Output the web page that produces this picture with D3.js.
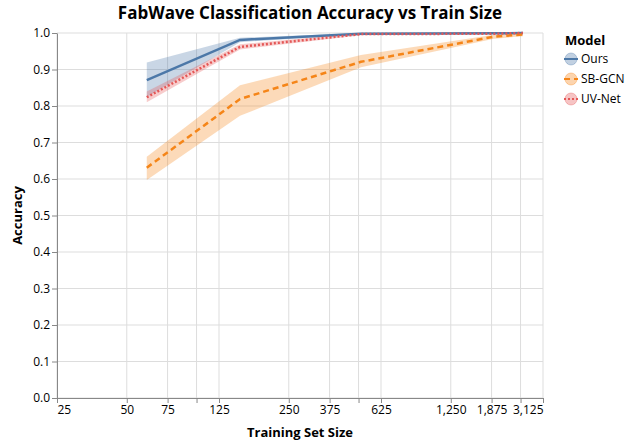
<!DOCTYPE html>
<html>
<head>
<meta charset="utf-8">
<script src="https://cdn.jsdelivr.net/npm/d3@7"></script>
<style>
body { margin: 0; background: #fff; }
text { font-family: "Open Sans", "Noto Sans", sans-serif; }
</style>
</head>
<body>
<div id="chart"></div>
<script>
// data
var models = ["Ours", "SB-GCN", "UV-Net"];
var colors = ["#4c78a8", "#f58518", "#e45756"];
var dashes = [null, "6,4", "2,2"];
var trainSizes = [61, 154, 512, 1920, 2560];

var oursMean = [0.871, 0.981, 0.998, 0.999, 1.0];
var oursLo   = [0.825, 0.975, 0.996, 0.998, 0.999];
var oursHi   = [0.919, 0.987, 1.0, 1.0, 1.0];

var sbMean = [0.631, 0.819, 0.921, 0.990, 0.996];
var sbLo   = [0.597, 0.773, 0.906, 0.984, 0.991];
var sbHi   = [0.661, 0.857, 0.940, 0.995, 1.0];

var uvMean = [0.824, 0.962, 0.997, 0.998, 1.0];
var uvLo   = [0.810, 0.955, 0.994, 0.997, 0.999];
var uvHi   = [0.840, 0.969, 1.0, 0.999, 1.0];

var xTicks = [25, 50, 75, 100, 125, 250, 375, 500, 625, 1250, 1875, 2500, 3125];
var hiddenLabels = [100, 500, 2500];
var yTicks = [0, 0.1, 0.2, 0.3, 0.4, 0.5, 0.6, 0.7, 0.8, 0.9, 1.0];

var series = [
  {mean: oursMean, lo: oursLo, hi: oursHi},
  {mean: sbMean, lo: sbLo, hi: sbHi},
  {mean: uvMean, lo: uvLo, hi: uvHi}
];

var width = 637, height = 442;
var margin = {left: 57, right: 94, top: 33, bottom: 44};
var w = width - margin.left - margin.right;
var h = height - margin.top - margin.bottom;

var svg = d3.select("#chart").append("svg")
  .attr("width", width)
  .attr("height", height);

var g = svg.append("g")
  .attr("transform", "translate(" + margin.left + "," + margin.top + ")");

var x = d3.scaleLog().domain([25, 3125]).range([0, w]);
var y = d3.scaleLinear().domain([0, 1]).range([h, 0]);

// grid
g.append("g").selectAll("line.gx")
  .data(xTicks).enter().append("line")
  .attr("x1", function(d) { return x(d); })
  .attr("x2", function(d) { return x(d); })
  .attr("y1", 0).attr("y2", h)
  .attr("stroke", "#ddd");
g.append("g").selectAll("line.gy")
  .data(yTicks).enter().append("line")
  .attr("x1", 0).attr("x2", w)
  .attr("y1", function(d) { return y(d); })
  .attr("y2", function(d) { return y(d); })
  .attr("stroke", "#ddd");

// axes
var xAxis = g.append("g")
  .attr("transform", "translate(0," + h + ")")
  .call(d3.axisBottom(x).tickValues(xTicks).tickSize(5).tickSizeOuter(0)
    .tickFormat(function(d) { return hiddenLabels.indexOf(d) >= 0 ? "" : d3.format(",")(d); }));
xAxis.selectAll("text")
  .attr("dy", "0.71em").attr("y", 7)
  .attr("text-anchor", function(d, i) { return i == 0 ? "start" : (i == xTicks.length - 1 ? "end" : "middle"); });

var yAxis = g.append("g")
  .call(d3.axisLeft(y).tickValues(yTicks).tickSize(5).tickSizeOuter(0).tickFormat(d3.format(".1f")));
yAxis.selectAll("text").attr("x", -7);

g.selectAll(".domain").attr("stroke", "#888");
g.selectAll(".tick line").attr("stroke", "#888");
g.selectAll(".tick text").attr("fill", "#000").style("font-size", "12px")
  .style("font-family", "'Open Sans', 'Noto Sans', sans-serif");

// bands and lines
var area = d3.area()
  .x(function(d) { return x(d.x); })
  .y0(function(d) { return y(d.lo); })
  .y1(function(d) { return y(d.hi); });
var line = d3.line()
  .x(function(d) { return x(d.x); })
  .y(function(d) { return y(d.m); });

series.forEach(function(s, k) {
  var pts = trainSizes.map(function(t, i) {
    return {x: t, m: s.mean[i], lo: s.lo[i], hi: s.hi[i]};
  });
  g.append("path").datum(pts)
    .attr("d", area)
    .attr("fill", colors[k])
    .attr("opacity", 0.3);
});
series.forEach(function(s, k) {
  var pts = trainSizes.map(function(t, i) {
    return {x: t, m: s.mean[i], lo: s.lo[i], hi: s.hi[i]};
  });
  g.append("path").datum(pts)
    .attr("d", line)
    .attr("fill", "none")
    .attr("stroke", colors[k])
    .attr("stroke-width", 2.5)
    .attr("stroke-dasharray", dashes[k]);
});

// titles
svg.append("text")
  .attr("x", 310).attr("y", 19)
  .attr("text-anchor", "middle")
  .style("font-size", "17px").style("font-weight", "bold")
  .text("FabWave Classification Accuracy vs Train Size");

svg.append("text")
  .attr("x", margin.left + w / 2).attr("y", 437)
  .attr("text-anchor", "middle")
  .style("font-size", "13px").style("font-weight", "bold")
  .text("Training Set Size");

svg.append("text")
  .attr("transform", "translate(22," + (margin.top + h / 2) + ") rotate(-90)")
  .attr("text-anchor", "middle")
  .style("font-size", "13px").style("font-weight", "bold")
  .text("Accuracy");

// legend
var legend = svg.append("g").attr("transform", "translate(564,0)");
legend.append("text")
  .attr("x", 1).attr("y", 45)
  .style("font-size", "13px").style("font-weight", "bold")
  .text("Model");

var item = legend.selectAll("g.item")
  .data(models).enter().append("g")
  .attr("transform", function(d, i) { return "translate(0," + (59 + i * 20) + ")"; });
item.append("circle")
  .attr("cx", 7).attr("cy", 0).attr("r", 6)
  .attr("fill", function(d, i) { return colors[i]; })
  .attr("fill-opacity", 0.35)
  .attr("stroke", function(d, i) { return colors[i]; })
  .attr("stroke-opacity", 0.35);
item.append("line")
  .attr("x1", 0).attr("x2", 14).attr("y1", 0).attr("y2", 0)
  .attr("stroke", function(d, i) { return colors[i]; })
  .attr("stroke-width", 2)
  .attr("stroke-dasharray", function(d, i) { return dashes[i]; });
item.append("text")
  .attr("x", 17).attr("y", 0).attr("dy", "0.35em")
  .style("font-size", "12px")
  .text(function(d) { return d; });
</script>
</body>
</html>
